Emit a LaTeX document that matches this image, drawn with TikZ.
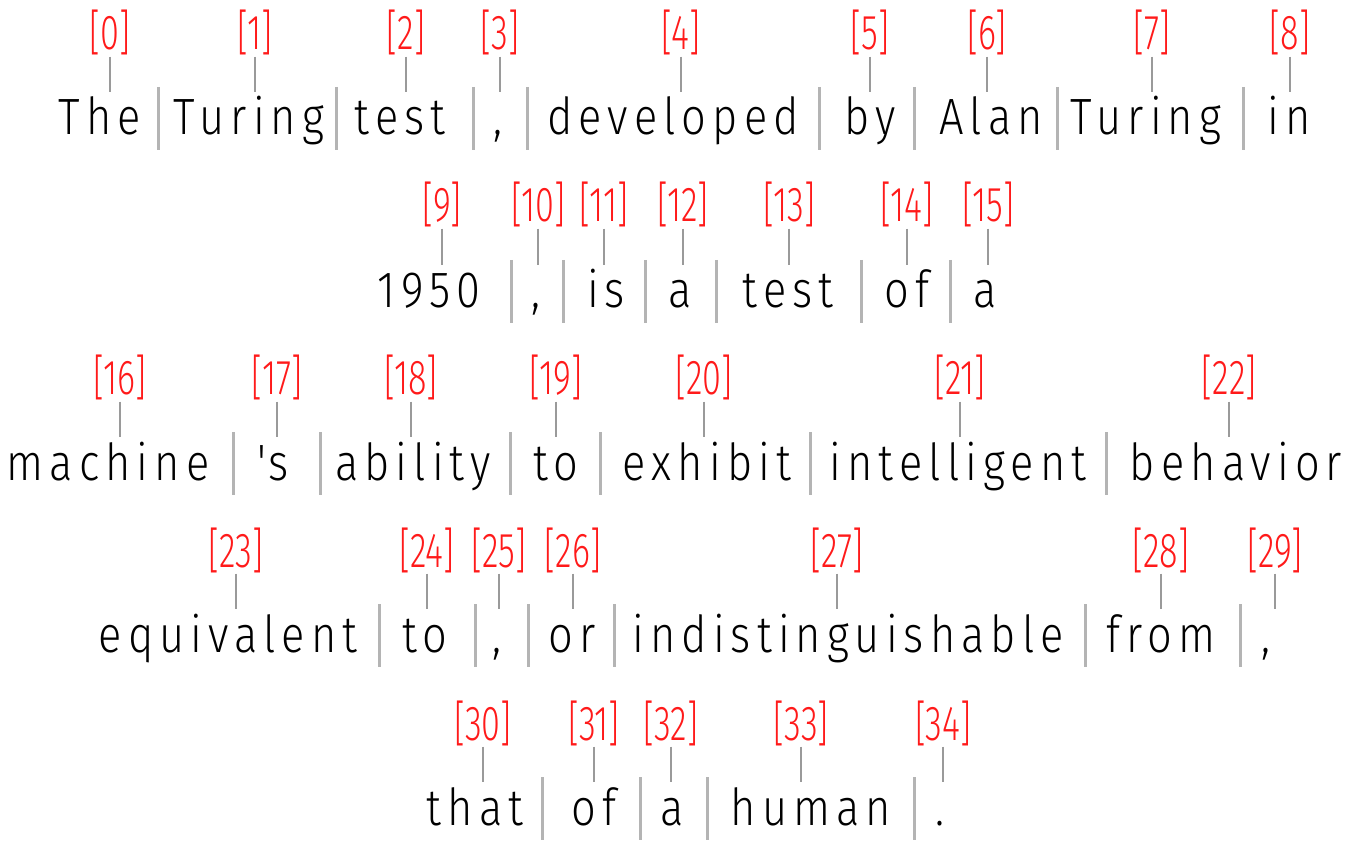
\documentclass[tikz,border=0pt]{standalone}
\usepackage{fontspec}
\setmainfont{Fira Sans Light}[FakeStretch=0.85, LetterSpace=12]
\newfontfamily\idxfont{Fira Sans Light}[FakeStretch=0.7]
\definecolor{idxred}{HTML}{FF1A1A}
\definecolor{tickgray}{HTML}{9A9A9A}
\definecolor{sepgray}{HTML}{B4B4B4}

\tikzset{
  token/.style ={anchor=base, inner sep=0pt, text height=43pt,
    font=\fontsize{51}{60}\selectfont, text=black},
  idx/.style   ={anchor=base, inner sep=0pt, text=idxred,
    font=\idxfont\fontsize{49}{54}\selectfont},
  tick/.style  ={draw=tickgray, line width=1.3pt, shorten <=1pt},
  sepline/.style={draw=sepgray, line width=3pt},
}

\begin{document}
\begin{tikzpicture}[x=1pt, y=-1pt]
  \useasboundingbox (0,0) rectangle (1366,850);
  % row 1
  \node[token] (w0) at (100, 135) {The};
  \node[token] (w1) at (249, 135) {Turing};
  \node[token] (w2) at (400, 135) {test};
  \node[token] (w3) at (498, 135) {,};
  \node[token] (w4) at (673, 135) {developed};
  \node[token] (w5) at (870, 135) {by};
  \node[token] (w6) at (991, 135) {Alan};
  \node[token] (w7) at (1146, 135) {Turing};
  \node[token] (w8) at (1289, 135) {in};
  % row 2
  \node[token] (w9) at (429, 308) {1950};
  \node[token] (w10) at (536, 308) {,};
  \node[token] (w11) at (606, 308) {is};
  \node[token] (w12) at (680, 308) {a};
  \node[token] (w13) at (788, 308) {test};
  \node[token] (w14) at (907, 308) {of};
  \node[token] (w15) at (985, 308) {a};
  % row 3
  \node[token] (w16) at (108, 480) {machine};
  \node[token] (w17) at (273, 480) {\textquotesingle s};
  \node[token] (w18) at (413, 480) {ability};
  \node[token] (w19) at (556, 480) {to};
  \node[token] (w20) at (707, 480) {exhibit};
  \node[token] (w21) at (958, 480) {intelligent};
  \node[token] (w22) at (1236, 480) {behavior};
  % row 4
  \node[token] (w23) at (228, 652) {equivalent};
  \node[token] (w24) at (425, 652) {to};
  \node[token] (w25) at (497, 652) {,};
  \node[token] (w26) at (572, 652) {or};
  \node[token] (w27) at (848, 652) {indistinguishable};
  \node[token] (w28) at (1161, 652) {from};
  \node[token] (w29) at (1266, 652) {,};
  % row 5
  \node[token] (w30) at (475, 825) {that};
  \node[token] (w31) at (594, 825) {of};
  \node[token] (w32) at (672, 825) {a};
  \node[token] (w33) at (811, 825) {human};
  \node[token] (w34) at (940, 825) {.};

  % indices
  \node[idx] (l0) at (110, 50) {[0]};
  \node[idx] (l1) at (255, 50) {[1]};
  \node[idx] (l2) at (406, 50) {[2]};
  \node[idx] (l3) at (500, 50) {[3]};
  \node[idx] (l4) at (681, 50) {[4]};
  \node[idx] (l5) at (870, 50) {[5]};
  \node[idx] (l6) at (987, 50) {[6]};
  \node[idx] (l7) at (1152, 50) {[7]};
  \node[idx] (l8) at (1290, 50) {[8]};
  \node[idx] (l9) at (442, 222) {[9]};
  \node[idx] (l10) at (538, 222) {[10]};
  \node[idx] (l11) at (604, 222) {[11]};
  \node[idx] (l12) at (683, 222) {[12]};
  \node[idx] (l13) at (789, 222) {[13]};
  \node[idx] (l14) at (907, 222) {[14]};
  \node[idx] (l15) at (988, 222) {[15]};
  \node[idx] (l16) at (120, 395) {[16]};
  \node[idx] (l17) at (277, 395) {[17]};
  \node[idx] (l18) at (411, 395) {[18]};
  \node[idx] (l19) at (556, 395) {[19]};
  \node[idx] (l20) at (704, 395) {[20]};
  \node[idx] (l21) at (960, 395) {[21]};
  \node[idx] (l22) at (1229, 395) {[22]};
  \node[idx] (l23) at (236, 567) {[23]};
  \node[idx] (l24) at (427, 567) {[24]};
  \node[idx] (l25) at (499, 567) {[25]};
  \node[idx] (l26) at (573, 567) {[26]};
  \node[idx] (l27) at (837, 567) {[27]};
  \node[idx] (l28) at (1161, 567) {[28]};
  \node[idx] (l29) at (1275, 567) {[29]};
  \node[idx] (l30) at (483, 740) {[30]};
  \node[idx] (l31) at (594, 740) {[31]};
  \node[idx] (l32) at (671, 740) {[32]};
  \node[idx] (l33) at (801, 740) {[33]};
  \node[idx] (l34) at (943, 740) {[34]};

  \foreach \i in {0,...,34}
    \draw[tick] (l\i.south) -- (l\i.south |- w\i.north);

  % token boundaries
  \foreach \x in {158, 336, 473, 527, 819, 914, 1057, 1243}
    \draw[sepline] (\x, 87) -- (\x, 150);
  \foreach \x in {511, 563, 645, 716, 861, 950}
    \draw[sepline] (\x, 260) -- (\x, 323);
  \foreach \x in {233, 320, 510, 600, 810, 1106}
    \draw[sepline] (\x, 432) -- (\x, 495);
  \foreach \x in {379, 475, 528, 614, 1085, 1240}
    \draw[sepline] (\x, 604) -- (\x, 667);
  \foreach \x in {542, 640, 707, 914}
    \draw[sepline] (\x, 777) -- (\x, 840);
\end{tikzpicture}
\end{document}
